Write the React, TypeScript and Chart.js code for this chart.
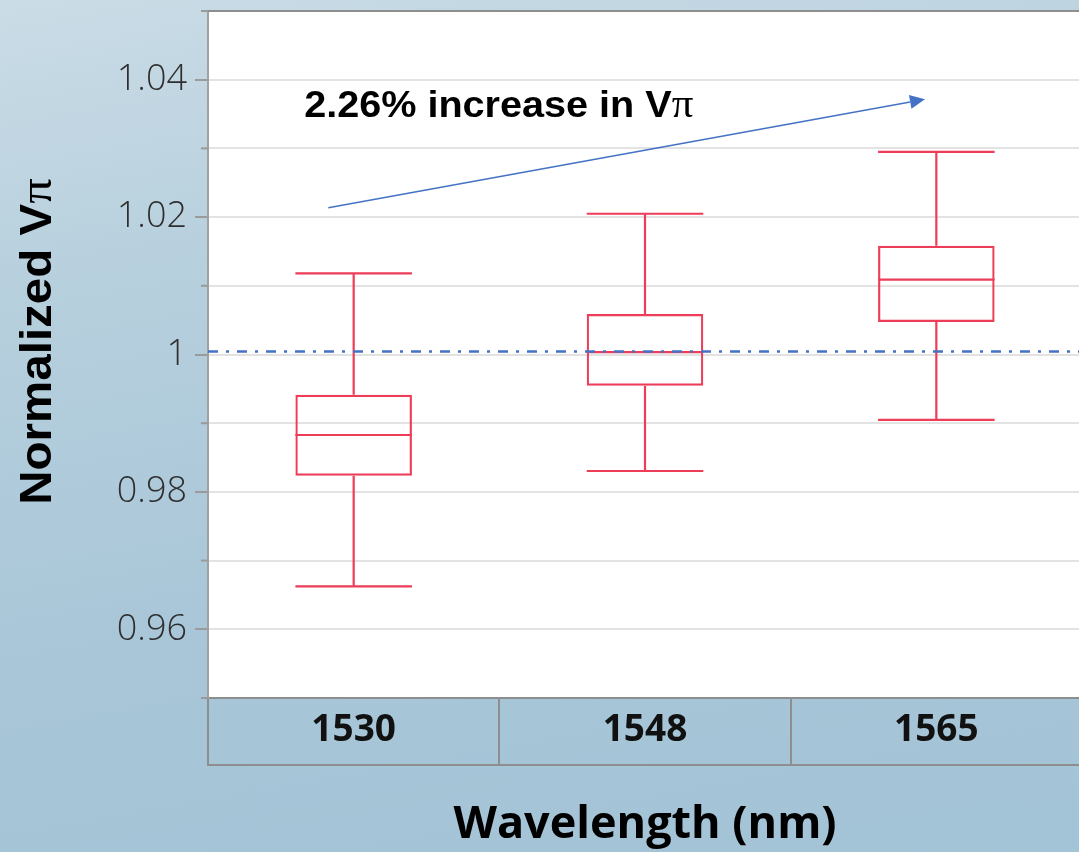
import React, { useEffect, useRef } from 'react';
import { Chart, registerables } from 'chart.js';

Chart.register(...registerables);

// ---- data ----
const categories = ['1530', '1548', '1565'];
const whiskerMin = [0.96626, 0.98304, 0.99047];
const quartile1 = [0.98236, 0.99546, 1.00473];
const medians = [0.98828, 1.00036, 1.01089];
const quartile3 = [0.99415, 1.0059, 1.01584];
const whiskerMax = [1.01182, 1.02049, 1.02948];
const referenceLevel = 1.00044;

const yTickValues = [0.95, 0.96, 0.97, 0.98, 0.99, 1.0, 1.01, 1.02, 1.03, 1.04, 1.05];
const yTickLabels = ['', '0.96', '', '0.98', '', '1', '', '1.02', '', '1.04', ''];

const annotationText = '2.26% increase in V';
const annotationPi = 'π';
const annotationAnchor = [-0.17, 1.03457]; // [category index, value]
const arrowStart = [-0.087, 1.02137];
const arrowEnd = [1.961, 1.03715];

const yTitleMain = 'Normalized V';
const yTitlePi = 'π';
const xTitle = 'Wavelength (nm)';

const RED = '#EE3D58';
const BLUE = '#4472C4';

function drawStretchedText(
  ctx: CanvasRenderingContext2D,
  parts: { text: string; font: string }[],
  stretch: number,
  align: 'left' | 'center'
) {
  let total = 0;
  const widths = parts.map((p) => {
    ctx.font = p.font;
    const w = ctx.measureText(p.text).width;
    total += w;
    return w;
  });
  ctx.save();
  ctx.scale(stretch, 1);
  let x = align === 'center' ? -total / 2 : 0;
  parts.forEach((p, i) => {
    ctx.font = p.font;
    ctx.fillText(p.text, x, 0);
    x += widths[i];
  });
  ctx.restore();
}

const boxPlugin = {
  id: 'boxDecor',
  beforeDraw(chart: any) {
    const { ctx, chartArea } = chart;
    ctx.save();
    ctx.fillStyle = '#ffffff';
    ctx.fillRect(chartArea.left, chartArea.top, chartArea.right - chartArea.left, chartArea.bottom - chartArea.top);
    ctx.restore();
  },
  afterDraw(chart: any) {
    const { ctx, chartArea, scales } = chart;
    const x = scales.x;
    const y = scales.y;
    const meta = chart.getDatasetMeta(0);

    ctx.save();
    // whiskers and medians
    ctx.strokeStyle = RED;
    ctx.lineWidth = 2.2;
    categories.forEach((_, i) => {
      const cx = x.getPixelForValue(i);
      const half = meta.data[i].width / 2;
      const yMin = y.getPixelForValue(whiskerMin[i]);
      const yMax = y.getPixelForValue(whiskerMax[i]);
      const yQ1 = y.getPixelForValue(quartile1[i]);
      const yQ3 = y.getPixelForValue(quartile3[i]);
      const yMed = y.getPixelForValue(medians[i]);
      ctx.beginPath();
      ctx.moveTo(cx, yQ3);
      ctx.lineTo(cx, yMax);
      ctx.moveTo(cx - half, yMax);
      ctx.lineTo(cx + half, yMax);
      ctx.moveTo(cx, yQ1);
      ctx.lineTo(cx, yMin);
      ctx.moveTo(cx - half, yMin);
      ctx.lineTo(cx + half, yMin);
      ctx.moveTo(cx - half, yMed);
      ctx.lineTo(cx + half, yMed);
      ctx.stroke();
    });

    // reference dash-dot line
    const yRef = y.getPixelForValue(referenceLevel);
    ctx.strokeStyle = BLUE;
    ctx.lineWidth = 2.5;
    ctx.setLineDash([10, 8, 3, 8]);
    ctx.beginPath();
    ctx.moveTo(chartArea.left, yRef);
    ctx.lineTo(chartArea.right, yRef);
    ctx.stroke();
    ctx.setLineDash([]);

    // top border of plot area
    ctx.strokeStyle = '#8e8e8e';
    ctx.lineWidth = 2;
    ctx.beginPath();
    ctx.moveTo(chartArea.left, chartArea.top);
    ctx.lineTo(chartArea.right, chartArea.top);
    ctx.stroke();

    // bottom line of category band
    const bandBottom = chartArea.bottom + 67;
    ctx.beginPath();
    ctx.moveTo(chartArea.left - 1, bandBottom);
    ctx.lineTo(chartArea.right, bandBottom);
    ctx.stroke();

    // minor y tick marks
    ctx.strokeStyle = '#9a9a9a';
    yTickValues.forEach((v, i) => {
      if (yTickLabels[i]) return;
      const py = y.getPixelForValue(v);
      ctx.beginPath();
      ctx.moveTo(chartArea.left - 7, py);
      ctx.lineTo(chartArea.left, py);
      ctx.stroke();
    });

    // arrow
    const ax0 = x.getPixelForValue(arrowStart[0]);
    const ay0 = y.getPixelForValue(arrowStart[1]);
    const ax1 = x.getPixelForValue(arrowEnd[0]);
    const ay1 = y.getPixelForValue(arrowEnd[1]);
    const ang = Math.atan2(ay1 - ay0, ax1 - ax0);
    const headLen = 15;
    const headHalf = 7;
    const bx = ax1 - headLen * Math.cos(ang);
    const by = ay1 - headLen * Math.sin(ang);
    ctx.strokeStyle = BLUE;
    ctx.fillStyle = BLUE;
    ctx.lineWidth = 1.6;
    ctx.beginPath();
    ctx.moveTo(ax0, ay0);
    ctx.lineTo(bx, by);
    ctx.stroke();
    ctx.beginPath();
    ctx.moveTo(ax1, ay1);
    ctx.lineTo(bx + headHalf * Math.sin(ang), by - headHalf * Math.cos(ang));
    ctx.lineTo(bx - headHalf * Math.sin(ang), by + headHalf * Math.cos(ang));
    ctx.closePath();
    ctx.fill();

    // annotation text
    ctx.fillStyle = '#000000';
    ctx.textBaseline = 'alphabetic';
    ctx.textAlign = 'left';
    ctx.save();
    ctx.translate(x.getPixelForValue(annotationAnchor[0]), y.getPixelForValue(annotationAnchor[1]));
    drawStretchedText(
      ctx,
      [
        { text: annotationText, font: 'bold 37px "Liberation Sans", Arial, sans-serif' },
        { text: annotationPi, font: '40px "Liberation Serif", "DejaVu Serif", serif' },
      ],
      1.07,
      'left'
    );
    ctx.restore();

    // y axis title
    ctx.save();
    ctx.translate(51, (chartArea.top + chartArea.bottom) / 2 - 13);
    ctx.rotate(-Math.PI / 2);
    drawStretchedText(
      ctx,
      [
        { text: yTitleMain, font: 'bold 44px "Liberation Sans", Arial, sans-serif' },
        { text: yTitlePi, font: '47px "Liberation Serif", "DejaVu Serif", serif' },
      ],
      1.08,
      'center'
    );
    ctx.restore();

    ctx.restore();
  },
};

export default function App() {
  const canvasRef = useRef<HTMLCanvasElement | null>(null);

  useEffect(() => {
    if (!canvasRef.current) return;
    const chart = new Chart(canvasRef.current, {
      type: 'bar',
      data: {
        labels: categories,
        datasets: [
          {
            label: 'IQR',
            data: categories.map((_, i) => [quartile1[i], quartile3[i]]) as any,
            backgroundColor: 'rgba(255,255,255,0)',
            borderColor: RED,
            borderWidth: 2.2,
            borderSkipped: false,
            barPercentage: 0.4,
            categoryPercentage: 1.0,
          },
        ],
      },
      options: {
        responsive: false,
        animation: false,
        devicePixelRatio: 1,
        layout: { padding: { top: 11, left: 0, right: 8, bottom: 0 } },
        plugins: {
          legend: { display: false },
          tooltip: { enabled: false },
          title: { display: false },
        },
        scales: {
          x: {
            type: 'category',
            offset: true,
            afterFit: (s: any) => {
              s.height = 154;
              s.paddingLeft = 0;
              s.paddingRight = 0;
            },
            ticks: {
              font: { family: '"Open Sans", "Noto Sans", sans-serif', size: 37, weight: 'bold' },
              color: '#111111',
              padding: -57,
              maxRotation: 0,
              autoSkip: false,
            },
            grid: {
              offset: true,
              drawOnChartArea: false,
              drawTicks: true,
              tickLength: 67,
              tickColor: '#8e8e8e',
              tickWidth: 2,
              lineWidth: 2,
              color: '#8e8e8e',
            },
            border: { color: '#8e8e8e', width: 2 },
            title: {
              display: true,
              text: xTitle,
              font: { family: '"Open Sans", "Noto Sans", sans-serif', size: 45, weight: 'bold' },
              color: '#000000',
              padding: { top: 0, bottom: 0 },
            },
          },
          y: {
            type: 'linear',
            min: 0.95,
            max: 1.05,
            afterBuildTicks: (s: any) => {
              s.ticks = yTickValues.map((v) => ({ value: v }));
            },
            afterFit: (s: any) => {
              s.width = 208;
              s.paddingTop = 0;
              s.paddingBottom = 0;
            },
            ticks: {
              autoSkip: false,
              callback: (_v: any, i: number) => yTickLabels[i],
              font: { family: '"Open Sans", "Noto Sans", sans-serif', size: 36, weight: '300' },
              color: '#2e2e2e',
              padding: 8,
            },
            grid: {
              color: '#e3e3e3',
              lineWidth: 2,
              tickLength: 13,
              tickWidth: 2,
              tickColor: (c: any) => (yTickLabels[c.index] ? '#9a9a9a' : 'rgba(0,0,0,0)'),
            },
            border: { color: '#a0a0a0', width: 2 },
          },
        },
      },
      plugins: [boxPlugin],
    });
    return () => chart.destroy();
  }, []);

  return (
    <div
      style={{
        position: 'fixed',
        left: 0,
        top: 0,
        width: 1079,
        height: 852,
        overflow: 'hidden',
        background:
          'linear-gradient(170deg, #cadce6 0%, #b6cfdd 30%, #a8c6d8 65%, #a3c3d6 100%)',
      }}
    >
      <canvas ref={canvasRef} width={1090} height={852} style={{ display: 'block' }} />
    </div>
  );
}
